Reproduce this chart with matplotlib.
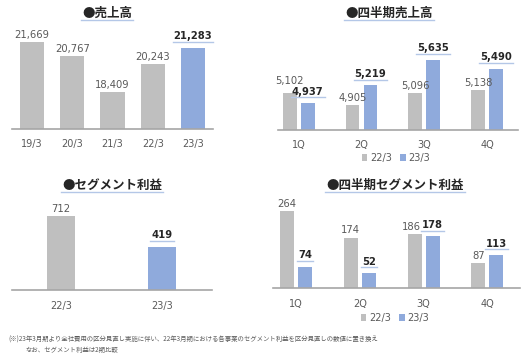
import matplotlib
matplotlib.use("Agg")
import matplotlib.pyplot as plt
from matplotlib.lines import Line2D
import numpy as np

plt.rcParams['font.family'] = ['DejaVu Sans', 'Noto Sans CJK JP']

# %% data
years = ['19/3', '20/3', '21/3', '22/3', '23/3']
sales = [21669, 20767, 18409, 20243, 21283]

quarters = ['1Q', '2Q', '3Q', '4Q']
q_sales_22 = [5102, 4905, 5096, 5138]
q_sales_23 = [4937, 5219, 5635, 5490]

seg_years = ['22/3', '23/3']
seg_profit = [712, 419]

q_profit_22 = [264, 174, 186, 87]
q_profit_23 = [74, 52, 178, 113]

series_names = ['22/3', '23/3']
titles = ['●売上高', '●四半期売上高', '●セグメント利益', '●四半期セグメント利益']
note1 = '(※)23年3月期より全社費用の区分見直し実施に伴い、22年3月期における各事業のセグメント利益を区分見直しの数値に置き換え'
note2 = 'なお、セグメント利益は2期比較'

# %% style
W, H = 526, 358
GRAY = '#BFBFBF'
BLUE = '#8FAADC'
TXT = '#595959'
DARK = '#262626'
ULINE = '#B4C7E7'

fig = plt.figure(figsize=(W / 100, H / 100), dpi=100)
underlined = []
pairs = []  # (regular label, bold label) side by side, to nudge if they collide


def addAx(left, right, top, bottom):
    ax = fig.add_axes([left / W, 1 - bottom / H, (right - left) / W, (bottom - top) / H])
    for s in ['top', 'right', 'left']:
        ax.spines[s].set_visible(False)
    ax.spines['bottom'].set_color('#A6A6A6')
    ax.spines['bottom'].set_linewidth(1.2)
    ax.set_yticks([])
    ax.tick_params(axis='x', length=0, labelsize=7, labelcolor=TXT)
    ax.patch.set_alpha(0)
    return ax


def label(ax, x, v, bold=False):
    if bold:
        t = ax.annotate(f'{v:,}', (x, v), xytext=(0, 4.5), textcoords='offset points',
                        ha='center', va='bottom', fontsize=7.2, fontweight='bold', color=DARK)
        underlined.append(t)
    else:
        t = ax.annotate(f'{v:,}', (x, v), xytext=(0, 1.5), textcoords='offset points',
                        ha='center', va='bottom', fontsize=7.2, color=TXT)
    return t


# %% panel 1 - annual sales
ax1 = addAx(12, 213, 29, 129)
x = np.arange(len(years))
cols = [GRAY] * (len(years) - 1) + [BLUE]
ax1.bar(x, sales, width=0.6, color=cols)
ax1.set_ylim(16000, 22500)
ax1.set_xlim(-0.5, 4.5)
ax1.set_xticks(x, years)
ax1.tick_params(axis='x', pad=7)
for i, v in enumerate(sales):
    label(ax1, i, v, bold=(i == len(sales) - 1))

# %% panel 2 - quarterly sales
ax2 = addAx(278, 518, 37, 130)
xq = np.arange(len(quarters))
b1 = ax2.bar(xq - 0.143, q_sales_22, width=0.22, color=GRAY, label=series_names[0])
b2 = ax2.bar(xq + 0.143, q_sales_23, width=0.22, color=BLUE, label=series_names[1])
ax2.set_ylim(4500, 6000)
ax2.set_xlim(-0.33, 3.49)
ax2.set_xticks(xq, quarters)
ax2.tick_params(axis='x', pad=7)
for i in range(len(quarters)):
    ta = label(ax2, i - 0.143, q_sales_22[i])
    tb = label(ax2, i + 0.143, q_sales_23[i], bold=True)
    pairs.append((ta, tb))
ax2.legend(handles=[b1, b2], loc='center', bbox_to_anchor=(396 / W, 1 - 158 / H),
           bbox_transform=fig.transFigure, ncol=2, frameon=False, fontsize=7,
           handlelength=0.6, handleheight=0.6, handletextpad=0.3, columnspacing=0.8,
           labelcolor=TXT)

# %% panel 3 - segment profit
ax3 = addAx(12, 212, 207, 290)
xs = np.arange(len(seg_years))
ax3.bar(xs, seg_profit, width=0.28, color=[GRAY, BLUE])
ax3.set_ylim(0, 800)
ax3.set_xlim(-0.485, 1.495)
ax3.set_xticks(xs, seg_years)
ax3.tick_params(axis='x', pad=8)
label(ax3, 0, seg_profit[0])
label(ax3, 1, seg_profit[1], bold=True)

# %% panel 4 - quarterly segment profit
ax4 = addAx(273, 520, 201, 288)
p1 = ax4.bar(xq - 0.141, q_profit_22, width=0.22, color=GRAY, label=series_names[0])
p2 = ax4.bar(xq + 0.141, q_profit_23, width=0.22, color=BLUE, label=series_names[1])
ax4.set_ylim(0, 300)
ax4.set_xlim(-0.36, 3.51)
ax4.set_xticks(xq, quarters)
ax4.tick_params(axis='x', pad=8)
for i in range(len(quarters)):
    ta = label(ax4, i - 0.141, q_profit_22[i])
    tb = label(ax4, i + 0.141, q_profit_23[i], bold=True)
    pairs.append((ta, tb))
ax4.legend(handles=[p1, p2], loc='center', bbox_to_anchor=(395 / W, 1 - 318 / H),
           bbox_transform=fig.transFigure, ncol=2, frameon=False, fontsize=7,
           handlelength=0.6, handleheight=0.6, handletextpad=0.3, columnspacing=0.8,
           labelcolor=TXT)

# %% titles
tpos = [(107, 13), (389, 13), (112, 185), (395, 185)]
for t, (tx, ty) in zip(titles, tpos):
    tt = fig.text(tx / W, 1 - ty / H, t, ha='center', va='center', fontsize=9,
                  fontweight='bold', color='#262626', family=['Noto Sans CJK JP', 'DejaVu Sans'])
    underlined.append(tt)

# %% footnote
fig.text(8 / W, 1 - 340 / H, note1, ha='left', va='center', fontsize=4.6, color=TXT,
         family=['Noto Sans CJK JP', 'DejaVu Sans'])
fig.text(25 / W, 1 - 350 / H, note2, ha='left', va='center', fontsize=4.6, color=TXT,
         family=['Noto Sans CJK JP', 'DejaVu Sans'])

# %% nudge regular labels where they collide with the bold neighbour:
# labels on the same line -> slide left, staggered labels -> lift above
fig.canvas.draw()
r = fig.canvas.get_renderer()
for ta, tb in pairs:
    ba = ta.get_window_extent(r)
    bb = tb.get_window_extent(r)
    if ba.overlaps(bb):
        oy = min(ba.y1, bb.y1) - max(ba.y0, bb.y0)
        if oy > 0.7 * ba.height:
            ox = ba.x1 - bb.x0 + 1
            ta.xyann = (ta.xyann[0] - ox * 72 / fig.dpi, ta.xyann[1])
        else:
            dy = (bb.y1 - ba.y0 + 1) * 72 / fig.dpi
            ta.xyann = (0, ta.xyann[1] + dy)

# %% underlines from rendered text extents
for t in underlined:
    bb = t.get_window_extent(r)
    yl = bb.y0 - 0.5
    fig.add_artist(Line2D([(bb.x0 - 1) / W, (bb.x1 + 1) / W], [yl / H, yl / H],
                          transform=fig.transFigure, color=ULINE, linewidth=1.0))

fig.savefig('out.png', dpi=100)
